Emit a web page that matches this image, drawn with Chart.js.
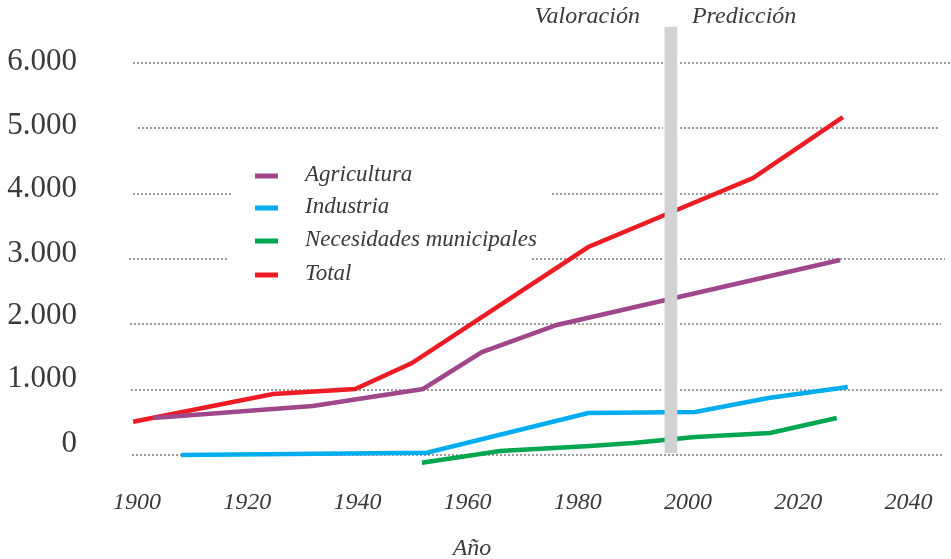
<!DOCTYPE html>
<html><head><meta charset="utf-8">
<script src="https://cdn.jsdelivr.net/npm/chart.js@4.4.0/dist/chart.umd.min.js"></script>
<style>html,body{margin:0;padding:0;background:#fff;overflow:hidden}canvas{display:block}</style>
</head><body>
<canvas id="c" width="951" height="559"></canvas>
<script>
// ---- data ----
const seriesNames = ['Agricultura', 'Industria', 'Necesidades municipales', 'Total'];
const agriYears   = [1902.9, 1931.9, 1951.9, 1962.6, 1976.2, 2027.6];
const agriValues  = [566, 750, 1010, 1576, 1990, 2985];
const indYears    = [1908.0, 1952.6, 1981.9, 2001.3, 2014.6, 2029.0];
const indValues   = [0, 35, 643, 658, 872, 1041];
const munYears    = [1951.7, 1965.9, 1982.2, 1990.0, 2001.3, 2014.9, 2027.0];
const munValues   = [-118, 61, 138, 184, 276, 337, 566];
const totYears    = [1899.3, 1924.7, 1939.6, 1949.9, 1981.9, 2011.8, 2028.1];
const totValues   = [510, 934, 1010, 1408, 3184, 4240, 5173];
const yTicks      = [0, 1000, 2000, 3000, 4000, 5000, 6000];
const yTickLabels = ['0', '1.000', '2.000', '3.000', '4.000', '5.000', '6.000'];
const xTicks      = [1900, 1920, 1940, 1960, 1980, 2000, 2020, 2040];
const phaseLabels = ['Valoración', 'Predicción'];
const splitYear   = 1996.9;
const splitRange  = [30, 6550];
const xTitle      = 'Año';

// ---- styles ----
const colors = ['#9f478a', '#00aeef', '#00a650', '#ed1c24'];
const serif = "'Liberation Serif', 'Times New Roman', serif";
const textColor = '#3a3a3a';
const gridStyle = {
  start: [132, 131, 130, 129, 133, 138, 133],
  end:   [943, 942, 941, 945, 939, 940, 951],
  extraGaps: {3: [227, 532], 4: [232, 552]}
};
const yLabelShift = [-2.5, -2.2, -0.3, 2.5, 2.8, 5.2, 6.5];

function pts(xs, ys) { return xs.map((x, i) => ({x: x, y: ys[i]})); }

const lineSets = [
  [agriYears, agriValues], [indYears, indValues], [munYears, munValues], [totYears, totValues]
].map((d, i) => ({
  type: 'line',
  label: seriesNames[i],
  data: pts(d[0], d[1]),
  borderColor: colors[i],
  backgroundColor: colors[i],
  borderWidth: 4.5,
  pointRadius: 0,
  tension: 0,
  fill: false,
  borderCapStyle: 'butt',
  order: 1
}));

const splitBar = {
  type: 'bar',
  label: 'split',
  data: [{x: splitYear, y: splitRange}],
  backgroundColor: '#d1d2d4',
  borderWidth: 0,
  barThickness: 12,
  order: 0
};

const deco = {
  id: 'deco',
  beforeDatasetsDraw(chart) {
    const ctx = chart.ctx, ys = chart.scales.y, xs = chart.scales.x;
    const bx = xs.getPixelForValue(splitYear);
    const bTop = ys.getPixelForValue(splitRange[1]);
    const bBot = ys.getPixelForValue(splitRange[0]);
    ctx.save();
    ctx.strokeStyle = '#9b9b9b';
    ctx.lineWidth = 2;
    ctx.setLineDash([2, 2]);
    yTicks.forEach((v, i) => {
      const py = Math.round(ys.getPixelForValue(v));
      const gaps = [];
      if (py > bTop && py < bBot) gaps.push([bx - 8, bx + 9]);
      if (gridStyle.extraGaps[i]) gaps.push(gridStyle.extraGaps[i]);
      gaps.sort((a, b) => a[0] - b[0]);
      let x0 = gridStyle.start[i];
      const segs = [];
      gaps.forEach(g => { segs.push([x0, g[0]]); x0 = g[1]; });
      segs.push([x0, gridStyle.end[i]]);
      segs.forEach(s => {
        ctx.beginPath(); ctx.moveTo(s[0], py); ctx.lineTo(s[1], py); ctx.stroke();
      });
    });
    ctx.restore();
  },
  afterDraw(chart) {
    const ctx = chart.ctx, xs = chart.scales.x, ys = chart.scales.y;
    ctx.save();
    ctx.fillStyle = textColor;
    // y tick labels
    ctx.font = '31px ' + serif;
    ctx.textAlign = 'right';
    ctx.textBaseline = 'alphabetic';
    yTicks.forEach((v, i) => ctx.fillText(yTickLabels[i], 77, ys.getPixelForValue(v) + yLabelShift[i]));
    // x tick labels
    ctx.font = 'italic 24px ' + serif;
    ctx.textAlign = 'center';
    xTicks.forEach(t => ctx.fillText(String(t), xs.getPixelForValue(t), 509));
    // axis title
    ctx.fillText(xTitle, 472, 555);
    // phase labels
    const bx = xs.getPixelForValue(splitYear);
    ctx.textAlign = 'right';
    ctx.fillText(phaseLabels[0], bx - 31, 23);
    ctx.textAlign = 'left';
    ctx.fillText(phaseLabels[1], bx + 21, 23);
    // legend
    const legY = [176, 208, 241, 275];
    ctx.font = 'italic 23px ' + serif;
    ctx.textBaseline = 'middle';
    chart.data.datasets.filter(d => d.type === 'line').forEach((d, i) => {
      ctx.strokeStyle = d.borderColor;
      ctx.lineWidth = 5;
      ctx.beginPath(); ctx.moveTo(255, legY[i]); ctx.lineTo(278, legY[i]); ctx.stroke();
      ctx.fillStyle = textColor;
      ctx.fillText(d.label, 305, legY[i] - 1);
    });
    ctx.restore();
  }
};

new Chart(document.getElementById('c'), {
  type: 'line',
  data: {datasets: [...lineSets, splitBar]},
  options: {
    responsive: false,
    animation: false,
    devicePixelRatio: 1,
    layout: {padding: {top: 20, bottom: 89, left: 0, right: 0}},
    plugins: {legend: {display: false}, tooltip: {enabled: false}},
    scales: {
      x: {
        type: 'linear', display: false, offset: false,
        min: 1900 - 7 / 5.51, max: 1900 + 814 / 5.51
      },
      y: {
        type: 'linear', min: -230, max: 6660,
        afterBuildTicks: s => { s.ticks = yTicks.map(v => ({value: v})); },
        afterFit: s => { s.width = 130; s.paddingTop = 0; s.paddingBottom = 0; },
        grid: {display: false, drawTicks: false},
        border: {display: false},
        ticks: {display: false}
      }
    }
  },
  plugins: [deco]
});
</script>
</body></html>
